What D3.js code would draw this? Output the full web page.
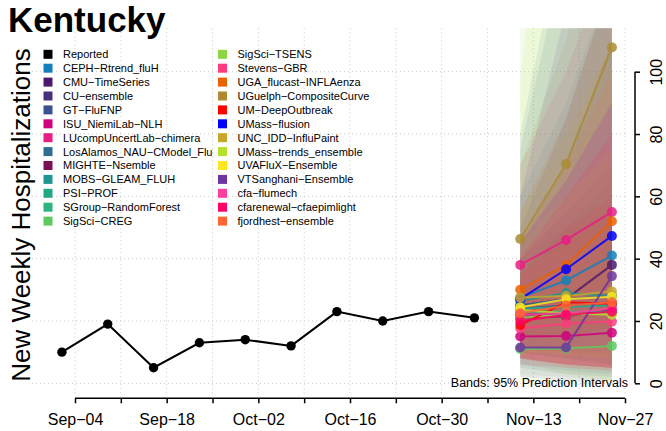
<!DOCTYPE html>
<html>
<head>
<meta charset="utf-8">
<script src="https://cdn.jsdelivr.net/npm/d3@7"></script>
<style>
  body { margin: 0; background: white; }
  svg { display: block; font-family: "Liberation Sans", Arial, Helvetica, sans-serif; }
</style>
</head>
<body>
<div id="chart"></div>
<script>
// reported weekly hospitalizations (Saturdays)
const reportedDates = ["2023-09-02", "2023-09-09", "2023-09-16", "2023-09-23", "2023-09-30",
    "2023-10-07", "2023-10-14", "2023-10-21", "2023-10-28", "2023-11-04"];
const reportedValues = [10, 19, 5, 13, 14, 12, 23, 20, 23, 21];

const forecastDates = ["2023-11-11", "2023-11-18", "2023-11-25"];

const modelNames = ["CEPH-Rtrend_fluH", "CMU-TimeSeries", "CU-ensemble", "GT-FluFNP",
    "ISU_NiemiLab-NLH", "LUcompUncertLab-chimera", "LosAlamos_NAU-CModel_Flu", "MIGHTE-Nsemble",
    "MOBS-GLEAM_FLUH", "PSI-PROF", "SGroup-RandomForest", "SigSci-CREG", "SigSci-TSENS",
    "Stevens-GBR", "UGA_flucast-INFLAenza", "UGuelph-CompositeCurve", "UM-DeepOutbreak",
    "UMass-flusion", "UNC_IDD-InfluPaint", "UMass-trends_ensemble", "UVAFluX-Ensemble",
    "VTSanghani-Ensemble", "cfa-flumech", "cfarenewal-cfaepimlight", "fjordhest-ensemble"];

const modelColors = ["#1380bd", "#4b1a6e", "#46307e", "#3b5191", "#d0007d", "#e91e84",
    "#2f6e90", "#7b0f55", "#1f968f", "#22a887", "#2db37b", "#5ec962", "#8cd547",
    "#ff3b7b", "#ea6100", "#ab8c32", "#ff0000", "#0000ff", "#c7a72a", "#b5e02c",
    "#ffe720", "#6d35a0", "#ff3fa0", "#ff0066", "#ff6535"];

// median forecasts, 1-3 weeks ahead
const medians = [
    [27.5, 33, 41], [25, 27, 38], [22, 22.5, 23], [24, 25, 26], [15, 15.2, 16.2],
    [38, 46, 55], [25, 27, 28], [21, 21.5, 23.5], [26.5, 29, 28], [24, 24.5, 25],
    [23, 23, 23], [11, 11.2, 12], [21, 22, 22.5], [17.6, 19.2, 19.8], [30, 38, 52],
    [46.3, 70.4, 107.8], [18.7, 26, 25.5], [27, 36.6, 47.3], [27.5, 28, 29.5], [23.5, 22.5, 22],
    [24.4, 27, 27.8], [11.5, 11.5, 34.4], [22, 22.5, 24], [20, 22, 23], [22.5, 25, 26]
];

// 95% prediction intervals
const lower95 = [
    [15, 15, 18], [12, 10, 10], [8, 6, 5], [5, 3, 2], [8, 6, 5],
    [20, 18, 18], [6, 4, 3], [10, 8, 6], [12, 10, 8], [10, 8, 6],
    [10, 8, 7], [3, 2, 1], [1, 0, 0], [8, 6, 5], [15, 15, 18],
    [20, 22, 25], [8, 6, 5], [12, 12, 12], [8, 5, 4], [6, 3, 1],
    [10, 9, 8], [2, 1, 1], [8, 6, 5], [6, 5, 4], [8, 6, 5]
];
const upper95 = [
    [60, 90, 130], [45, 70, 110], [50, 85, 130], [75, 140, 220], [30, 35, 40],
    [70, 100, 140], [80, 150, 240], [40, 55, 70], [45, 60, 75], [40, 50, 65],
    [38, 45, 55], [25, 35, 45], [140, 260, 400], [35, 45, 55], [55, 85, 130],
    [70, 110, 170], [35, 50, 60], [45, 65, 90], [55, 80, 110], [97, 220, 350],
    [45, 60, 75], [60, 120, 200], [45, 65, 90], [40, 60, 80], [45, 70, 100]
];

const yTicks = [0, 20, 40, 60, 80, 100];

const width = 666,
    height = 431;

const parse = d3.utcParse("%Y-%m-%d");
const fmt = d3.utcFormat("%b\u2212%d");
const minus = s => s.replace(/-/g, "\u2212");

const svg = d3.select("#chart")
    .append("svg")
    .attr("width", width)
    .attr("height", height);

const x = d3.scaleUtc()
    .domain([parse("2023-09-04"), parse("2023-11-27")])
    .range([75, 625]);

const y = d3.scaleLinear()
    .domain([0, 100])
    .range([383.3, 71.7]);

// plot region
const plotLeft = 32, plotRight = 628, plotTop = 28.3, plotBottom = 395;

svg.append("clipPath")
    .attr("id", "plot-clip")
    .append("rect")
    .attr("x", plotLeft)
    .attr("y", plotTop)
    .attr("width", plotRight - plotLeft)
    .attr("height", plotBottom - plotTop);

const weekTicks = d3.utcMonday.range(parse("2023-09-04"), parse("2023-11-28"));

// grid
const grid = svg.append("g")
    .attr("stroke", "#c8c8c8")
    .attr("stroke-dasharray", "1,3");

grid.selectAll(".hgrid")
    .data(yTicks)
    .join("line")
    .attr("x1", plotLeft)
    .attr("x2", plotRight)
    .attr("y1", d => y(d))
    .attr("y2", d => y(d));

grid.selectAll(".vgrid")
    .data(weekTicks)
    .join("line")
    .attr("x1", d => x(d))
    .attr("x2", d => x(d))
    .attr("y1", plotTop)
    .attr("y2", plotBottom);

// prediction bands
const plot = svg.append("g").attr("clip-path", "url(#plot-clip)");
const fDates = forecastDates.map(parse);

const area = d3.area()
    .x((d, i) => x(fDates[i]))
    .y0(d => y(d[0]))
    .y1(d => y(d[1]));

plot.append("g")
    .selectAll("path")
    .data(modelNames)
    .join("path")
    .attr("d", (d, m) => area(lower95[m].map((lo, i) => [lo, upper95[m][i]])))
    .attr("fill", (d, m) => modelColors[m])
    .attr("fill-opacity", 0.1);

// forecast medians
const line = d3.line()
    .x((d, i) => x(fDates[i]))
    .y(d => y(d));

const models = plot.append("g")
    .selectAll("g")
    .data(modelNames)
    .join("g")
    .attr("opacity", 0.85);

models.append("path")
    .attr("d", (d, m) => line(medians[m]))
    .attr("fill", "none")
    .attr("stroke", (d, m) => modelColors[m])
    .attr("stroke-width", 2);

models.selectAll("circle")
    .data((d, m) => medians[m].map(v => ({ v: v, c: modelColors[m] })))
    .join("circle")
    .attr("cx", (d, i) => x(fDates[i]))
    .attr("cy", d => y(d.v))
    .attr("r", 5)
    .attr("fill", d => d.c);

// reported data
const rDates = reportedDates.map(parse);

plot.append("path")
    .attr("d", d3.line().x((d, i) => x(rDates[i])).y(d => y(d))(reportedValues))
    .attr("fill", "none")
    .attr("stroke", "black")
    .attr("stroke-width", 2);

plot.selectAll(".rep")
    .data(reportedValues)
    .join("circle")
    .attr("cx", (d, i) => x(rDates[i]))
    .attr("cy", d => y(d))
    .attr("r", 4.7)
    .attr("fill", "black");

// x axis
const xAxis = svg.append("g")
    .attr("transform", "translate(0,398.3)")
    .call(d3.axisBottom(x)
        .tickValues(weekTicks)
        .tickSize(5)
        .tickFormat((d, i) => i % 2 === 0 ? fmt(d) : ""));
xAxis.select(".domain").attr("d", `M${x(weekTicks[0])},0H${x(weekTicks[weekTicks.length - 1])}`)
    .attr("stroke-width", 1.5);
xAxis.selectAll(".tick line").attr("stroke-width", 1.5);
xAxis.selectAll(".tick text")
    .attr("font-size", 16)
    .attr("font-family", "Liberation Sans, Arial, sans-serif")
    .attr("dy", null)
    .attr("y", 26.5);

// right y axis
const yAxis = svg.append("g")
    .attr("transform", "translate(635,0)")
    .call(d3.axisRight(y).tickValues(yTicks).tickSize(5).tickFormat(d3.format("d")));
yAxis.select(".domain").attr("d", `M0,${y(0)}V${y(100)}`).attr("stroke-width", 1.5);
yAxis.selectAll(".tick line").attr("stroke-width", 1.5);
yAxis.selectAll(".tick text")
    .attr("font-size", 16)
    .attr("font-family", "Liberation Sans, Arial, sans-serif")
    .attr("x", null)
    .attr("dy", null)
    .attr("text-anchor", "middle")
    .attr("transform", "translate(27,0) rotate(-90)");

// note
svg.append("text")
    .attr("x", 628)
    .attr("y", 387)
    .attr("text-anchor", "end")
    .attr("font-size", 12.5)
    .text("Bands: 95% Prediction Intervals");

// titles
svg.append("text")
    .attr("x", 8)
    .attr("y", 32)
    .attr("font-size", 35)
    .attr("font-weight", "bold")
    .text("Kentucky");

svg.append("text")
    .attr("transform", "translate(30,215) rotate(-90)")
    .attr("text-anchor", "middle")
    .attr("font-size", 26)
    .text("New Weekly Hospitalizations");

// legend
const legendNames = ["Reported"].concat(modelNames);
const legendColors = ["black"].concat(modelColors);

const legend = svg.append("g")
    .selectAll("g")
    .data(legendNames)
    .join("g")
    .attr("transform", (d, i) => `translate(${i < 13 ? 48 : 222.5},${54.3 + (i % 13) * 13.9})`);

legend.append("rect")
    .attr("x", -4.5)
    .attr("y", -4.5)
    .attr("width", 9)
    .attr("height", 9)
    .attr("fill", (d, i) => legendColors[i]);

legend.append("text")
    .attr("x", 15)
    .attr("dy", "0.36em")
    .attr("font-size", 11)
    .text(d => minus(d));
</script>
</body>
</html>
